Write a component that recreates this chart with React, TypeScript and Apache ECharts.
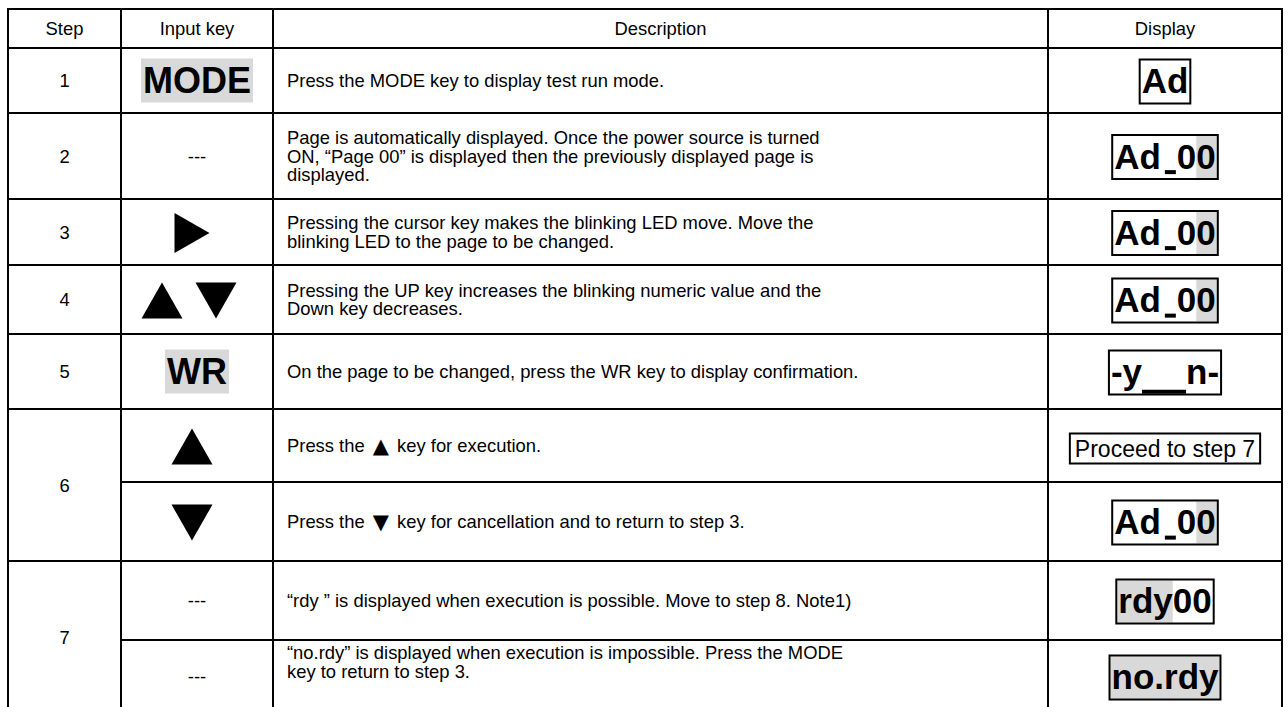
import React, { useEffect, useRef } from "react";
import * as echarts from "echarts";

// ---------- content ----------
const headers = ["Step", "Input key", "Description", "Display"];
const steps = ["1", "2", "3", "4", "5", "6", "6", "7", "7"];
const inputKeys = ["MODE", "---", "▶", "▲▼", "WR", "▲", "▼", "---", "---"];
const descriptions = [
  "Press the MODE key to display test run mode.",
  "Page is automatically displayed. Once the power source is turned\nON, “Page 00” is displayed then the previously displayed page is\ndisplayed.",
  "Pressing the cursor key makes the blinking LED move. Move the\nblinking LED to the page to be changed.",
  "Pressing the UP key increases the blinking numeric value and the\nDown key decreases.",
  "On the page to be changed, press the WR key to display confirmation.",
  "Press the ▲ key for execution.",
  "Press the ▼ key for cancellation and to return to step 3.",
  "“rdy ” is displayed when execution is possible. Move to step 8. Note1)",
  "“no.rdy” is displayed when execution is impossible. Press the MODE\nkey to return to step 3.",
];
// [..] marks the blinking (highlighted) part of the LED display
const displays = ["Ad", "Ad_0[0]", "Ad_0[0]", "Ad_0[0]", "-y__n-", "Proceed to step 7", "Ad_0[0]", "[rdy]00", "[no.rdy]"];

// ---------- layout ----------
const COL_X = [8, 121, 273, 1048, 1282];
const ROW_Y = [9, 48, 113, 199, 265, 334, 409, 482, 561, 640, 713];
const LINE_W = 2;
const FAMILY = "'Liberation Sans', Arial, Helvetica, sans-serif";
const BODY_FS = 18.4;
const BODY_LH = 18.6;
const LED_FS = 35;
const GRAY = "#d9d9d9";
const LAST_ROW_TEXT_OFFSET = 22;

let measureCtx: CanvasRenderingContext2D | null = null;
function textWidth(t: string, font: string) {
  if (!measureCtx) measureCtx = document.createElement("canvas").getContext("2d");
  measureCtx!.font = font;
  return measureCtx!.measureText(t).width;
}

function parseDisplay(s: string) {
  const segs: { t: string; hl: boolean }[] = [];
  const re = /\[([^\]]*)\]|([^\[]+)/g;
  let m: RegExpExecArray | null;
  while ((m = re.exec(s))) {
    if (m[1] !== undefined) segs.push({ t: m[1], hl: true });
    else segs.push({ t: m[2], hl: false });
  }
  return segs;
}

function triangle(kind: string, cx: number, cy: number) {
  let pts: number[][];
  if (kind === "▲") {
    const w = 41, h = 36;
    pts = [[cx - w / 2, cy + h / 2], [cx + w / 2, cy + h / 2], [cx, cy - h / 2]];
  } else if (kind === "▼") {
    const w = 41, h = 36;
    pts = [[cx - w / 2, cy - h / 2], [cx + w / 2, cy - h / 2], [cx, cy + h / 2]];
  } else {
    const w = 35, h = 40;
    pts = [[cx - w / 2, cy - h / 2], [cx + w / 2, cy], [cx - w / 2, cy + h / 2]];
  }
  return { type: "polygon", silent: true, shape: { points: pts }, style: { fill: "#000" } };
}

function ledDisplay(disp: string, cx: number, cy: number) {
  const els: any[] = [];
  const font = `bold ${LED_FS}px ${FAMILY}`;
  type Piece = { kind: "text" | "bar"; t: string; n: number; hl: boolean; w: number; gb: number; ga: number };
  const pieces: Piece[] = [];
  parseDisplay(disp).forEach((seg) => {
    seg.t.split(/(_+)/).forEach((part) => {
      if (!part) return;
      if (part[0] === "_") {
        const n = part.length;
        if (n === 1) pieces.push({ kind: "bar", t: part, n, hl: seg.hl, w: 11, gb: 4, ga: 1 });
        else pieces.push({ kind: "bar", t: part, n, hl: seg.hl, w: 22 * n, gb: 0, ga: 0 });
      } else {
        pieces.push({ kind: "text", t: part, n: 0, hl: seg.hl, w: textWidth(part, font), gb: 0, ga: 0 });
      }
    });
  });
  const W = pieces.reduce((a, p) => a + p.gb + p.w + p.ga, 0);
  const pad = 1;
  const rectW = W + 2 * pad + 2;
  const rectH = 44;
  const rectX = cx - rectW / 2;
  const rectY = cy - rectH / 2;
  const innerL = rectX + 1;
  const innerR = rectX + rectW - 1;
  const innerT = rectY + 1;
  const innerB = rectY + rectH - 1;
  const baseline = cy - 1 + 0.3465 * LED_FS;

  els.push({ type: "rect", silent: true, shape: { x: innerL, y: innerT, width: innerR - innerL, height: innerB - innerT }, style: { fill: "#fff" } });

  let x = innerL + pad;
  pieces.forEach((p, idx) => {
    const start = x;
    const end = x + p.gb + p.w + p.ga;
    if (p.hl) {
      const gx0 = idx === 0 ? innerL : start;
      const gx1 = idx === pieces.length - 1 ? innerR : end;
      els.push({ type: "rect", silent: true, shape: { x: gx0, y: innerT, width: gx1 - gx0, height: innerB - innerT }, style: { fill: GRAY } });
    }
    x = end;
  });
  x = innerL + pad;
  pieces.forEach((p) => {
    if (p.kind === "text") {
      els.push({
        type: "text", silent: true, x, y: cy - 1,
        style: { text: p.t, fontSize: LED_FS, fontWeight: "bold", fontFamily: FAMILY, fill: "#000", align: "left", verticalAlign: "middle" },
      });
    } else {
      const by = p.n === 1 ? baseline + 2 : baseline + 6;
      els.push({ type: "rect", silent: true, shape: { x: x + p.gb, y: by, width: p.w, height: 4 }, style: { fill: "#000" } });
    }
    x += p.gb + p.w + p.ga;
  });
  els.push({
    type: "rect", silent: true,
    shape: { x: rectX, y: rectY, width: rectW, height: rectH },
    style: { fill: "none", stroke: "#000", lineWidth: 2 },
  });
  return els;
}

function bodyText(text: string, x: number, y: number, align: string) {
  const hasTri = /[▲▼]/.test(text);
  return {
    type: "text", x, y, silent: true,
    style: {
      text: hasTri ? text.replace(/[▲▼]/g, (c) => `{t|${c}}`) : text,
      fontSize: BODY_FS, fontFamily: FAMILY, fill: "#000",
      align, verticalAlign: "middle", lineHeight: BODY_LH,
      rich: hasTri
        ? { t: { fontSize: 21, fontFamily: "'DejaVu Sans', sans-serif", fill: "#000", padding: [0, 3, 0, 3], lineHeight: BODY_LH } }
        : undefined,
    },
  };
}

function buildElements() {
  const els: any[] = [];
  const top = ROW_Y[0];
  const bottom = ROW_Y[ROW_Y.length - 1];

  headers.forEach((h, c) => {
    els.push(bodyText(h, (COL_X[c] + COL_X[c + 1]) / 2, (ROW_Y[0] + ROW_Y[1]) / 2, "center"));
  });

  // step column (merged cells)
  let i = 0;
  while (i < steps.length) {
    let j = i;
    while (j + 1 < steps.length && steps[j + 1] === steps[i]) j++;
    els.push(bodyText(steps[i], (COL_X[0] + COL_X[1]) / 2, (ROW_Y[i + 1] + ROW_Y[j + 2]) / 2, "center"));
    i = j + 1;
  }

  for (let r = 0; r < steps.length; r++) {
    const y0 = ROW_Y[r + 1];
    const y1 = ROW_Y[r + 2];
    const cy = (y0 + y1) / 2;

    // input key
    const key = inputKeys[r];
    const kcx = (COL_X[1] + COL_X[2]) / 2;
    if (/^[▲▼▶]+$/.test(key)) {
      const chars = Array.from(key);
      if (chars.length === 1) els.push(triangle(chars[0], kcx - 5, cy + 1));
      else chars.forEach((ch, k) => els.push(triangle(ch, kcx - 8 + (k === 0 ? -27 : 27), cy + 1)));
    } else if (key === "---") {
      els.push(bodyText(key, kcx, cy, "center"));
    } else {
      els.push({
        type: "text", x: kcx, y: cy, silent: true,
        style: {
          text: key, fontSize: 36, fontWeight: "bold", fontFamily: FAMILY, fill: "#000",
          align: "center", verticalAlign: "middle", lineHeight: 44,
          backgroundColor: GRAY, padding: [0, 2, 0, 2],
        },
      });
    }

    // description
    const isLast = r === steps.length - 1;
    els.push(bodyText(descriptions[r], COL_X[2] + 14, isLast ? y0 + LAST_ROW_TEXT_OFFSET : cy, "left"));

    // display
    const dcx = (COL_X[3] + COL_X[4]) / 2;
    const disp = displays[r];
    if (disp.indexOf(" ") >= 0) {
      els.push({
        type: "text", x: dcx, y: cy + 3, silent: true,
        style: {
          text: disp, fontSize: 23, fontFamily: FAMILY, fill: "#000",
          align: "center", verticalAlign: "middle", lineHeight: 26,
          padding: [2, 4, 0, 4], borderColor: "#000", borderWidth: 2, backgroundColor: "#fff",
        },
      });
    } else {
      ledDisplay(disp, dcx, cy + 1).forEach((e) => els.push(e));
    }
  }

  // grid lines
  COL_X.forEach((x) => {
    els.push({
      type: "line", silent: true,
      shape: { x1: x, y1: top - LINE_W / 2, x2: x, y2: bottom },
      style: { stroke: "#000", lineWidth: LINE_W },
    });
  });
  ROW_Y.forEach((y, k) => {
    let xs = COL_X[0];
    const r = k - 2;
    if (r >= 0 && r + 1 < steps.length && steps[r] === steps[r + 1]) xs = COL_X[1];
    els.push({
      type: "line", silent: true,
      shape: { x1: xs - LINE_W / 2, y1: y, x2: COL_X[4] + LINE_W / 2, y2: y },
      style: { stroke: "#000", lineWidth: LINE_W },
    });
  });

  return els;
}

export default function App() {
  const ref = useRef<HTMLDivElement>(null);
  useEffect(() => {
    if (!ref.current) return;
    const chart = echarts.init(ref.current, null, { renderer: "svg" });
    chart.setOption({
      animation: false,
      backgroundColor: "#ffffff",
      graphic: { elements: buildElements() },
    });
    return () => chart.dispose();
  }, []);
  return (
    <div
      ref={ref}
      style={{ position: "fixed", left: 0, top: 0, width: 1288, height: 707, background: "#fff" }}
    />
  );
}
